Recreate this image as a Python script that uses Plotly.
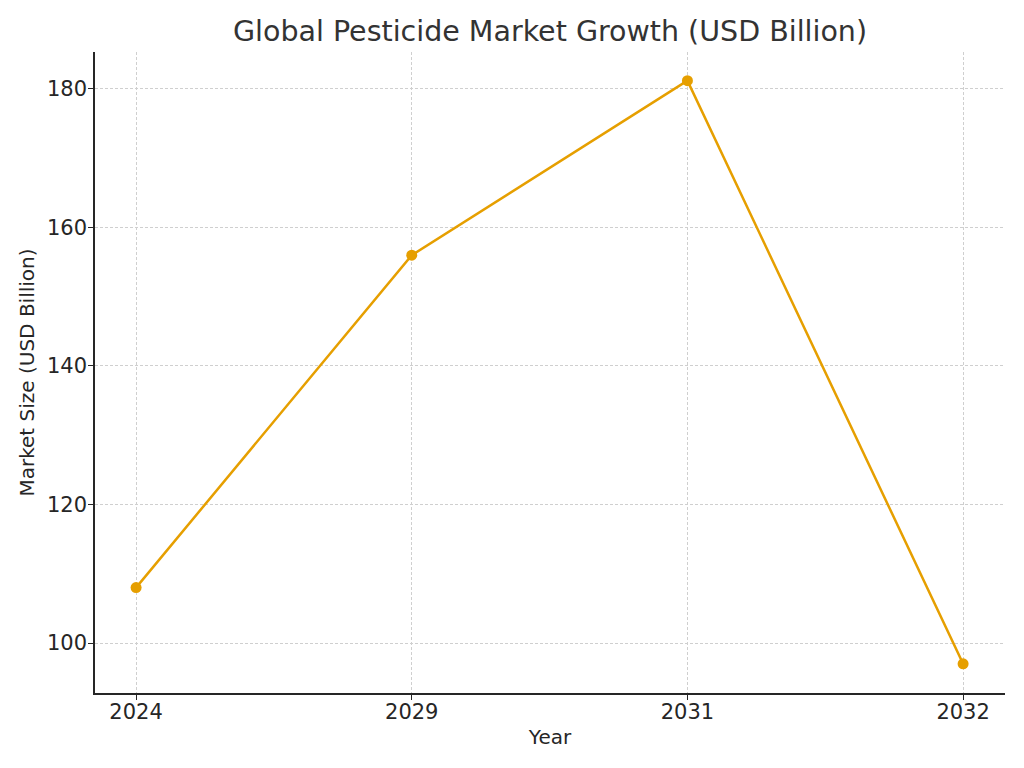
import plotly.graph_objects as go

years = ["2024", "2029", "2031", "2032"]
market_size = [108.0, 156.0, 181.2, 97.0]
y_ticks = [100, 120, 140, 160, 180]

fig = go.Figure()
fig.add_trace(go.Scatter(
    x=years, y=market_size, mode="lines+markers",
    line=dict(color="#E69F00", width=2.5),
    marker=dict(color="#E69F00", size=11),
))

font = "DejaVu Sans"
fig.update_layout(
    width=1024, height=768,
    margin=dict(l=87, r=27, t=44, b=83),
    plot_bgcolor="white", paper_bgcolor="white",
    showlegend=False,
    title=dict(text="Global Pesticide Market Growth (USD Billion)",
               xref="paper", x=0.5, xanchor="center", y=0.970, yanchor="middle",
               font=dict(family=font, size=28.5, color="#333333")),
    font=dict(family=font, color="#262626"),
)
fig.update_xaxes(
    type="category", range=[-0.149, 3.152],
    showline=True, linecolor="#262626", linewidth=1.5, mirror=False,
    ticks="outside", ticklen=5, tickcolor="#262626",
    showgrid=True, gridcolor="#CFCFCF", griddash="3px,2px", gridwidth=1,
    tickfont=dict(size=21, family=font, color="#262626"),
    ticklabelstandoff=-6,
    title=dict(text="Year", font=dict(size=20, family=font, color="#262626"), standoff=7),
    zeroline=False,
)
fig.update_yaxes(
    range=[92.78, 185.34], tickvals=y_ticks,
    showline=True, linecolor="#262626", linewidth=1.5, mirror=False,
    ticks="outside", ticklen=5, tickcolor="#262626",
    showgrid=True, gridcolor="#CFCFCF", griddash="3px,2px", gridwidth=1,
    tickfont=dict(size=21, family=font, color="#262626"),
    ticklabelstandoff=-3,
    title=dict(text="Market Size (USD Billion)", font=dict(size=20, family=font, color="#262626"), standoff=7),
    zeroline=False,
)

fig.write_html("out.html")
